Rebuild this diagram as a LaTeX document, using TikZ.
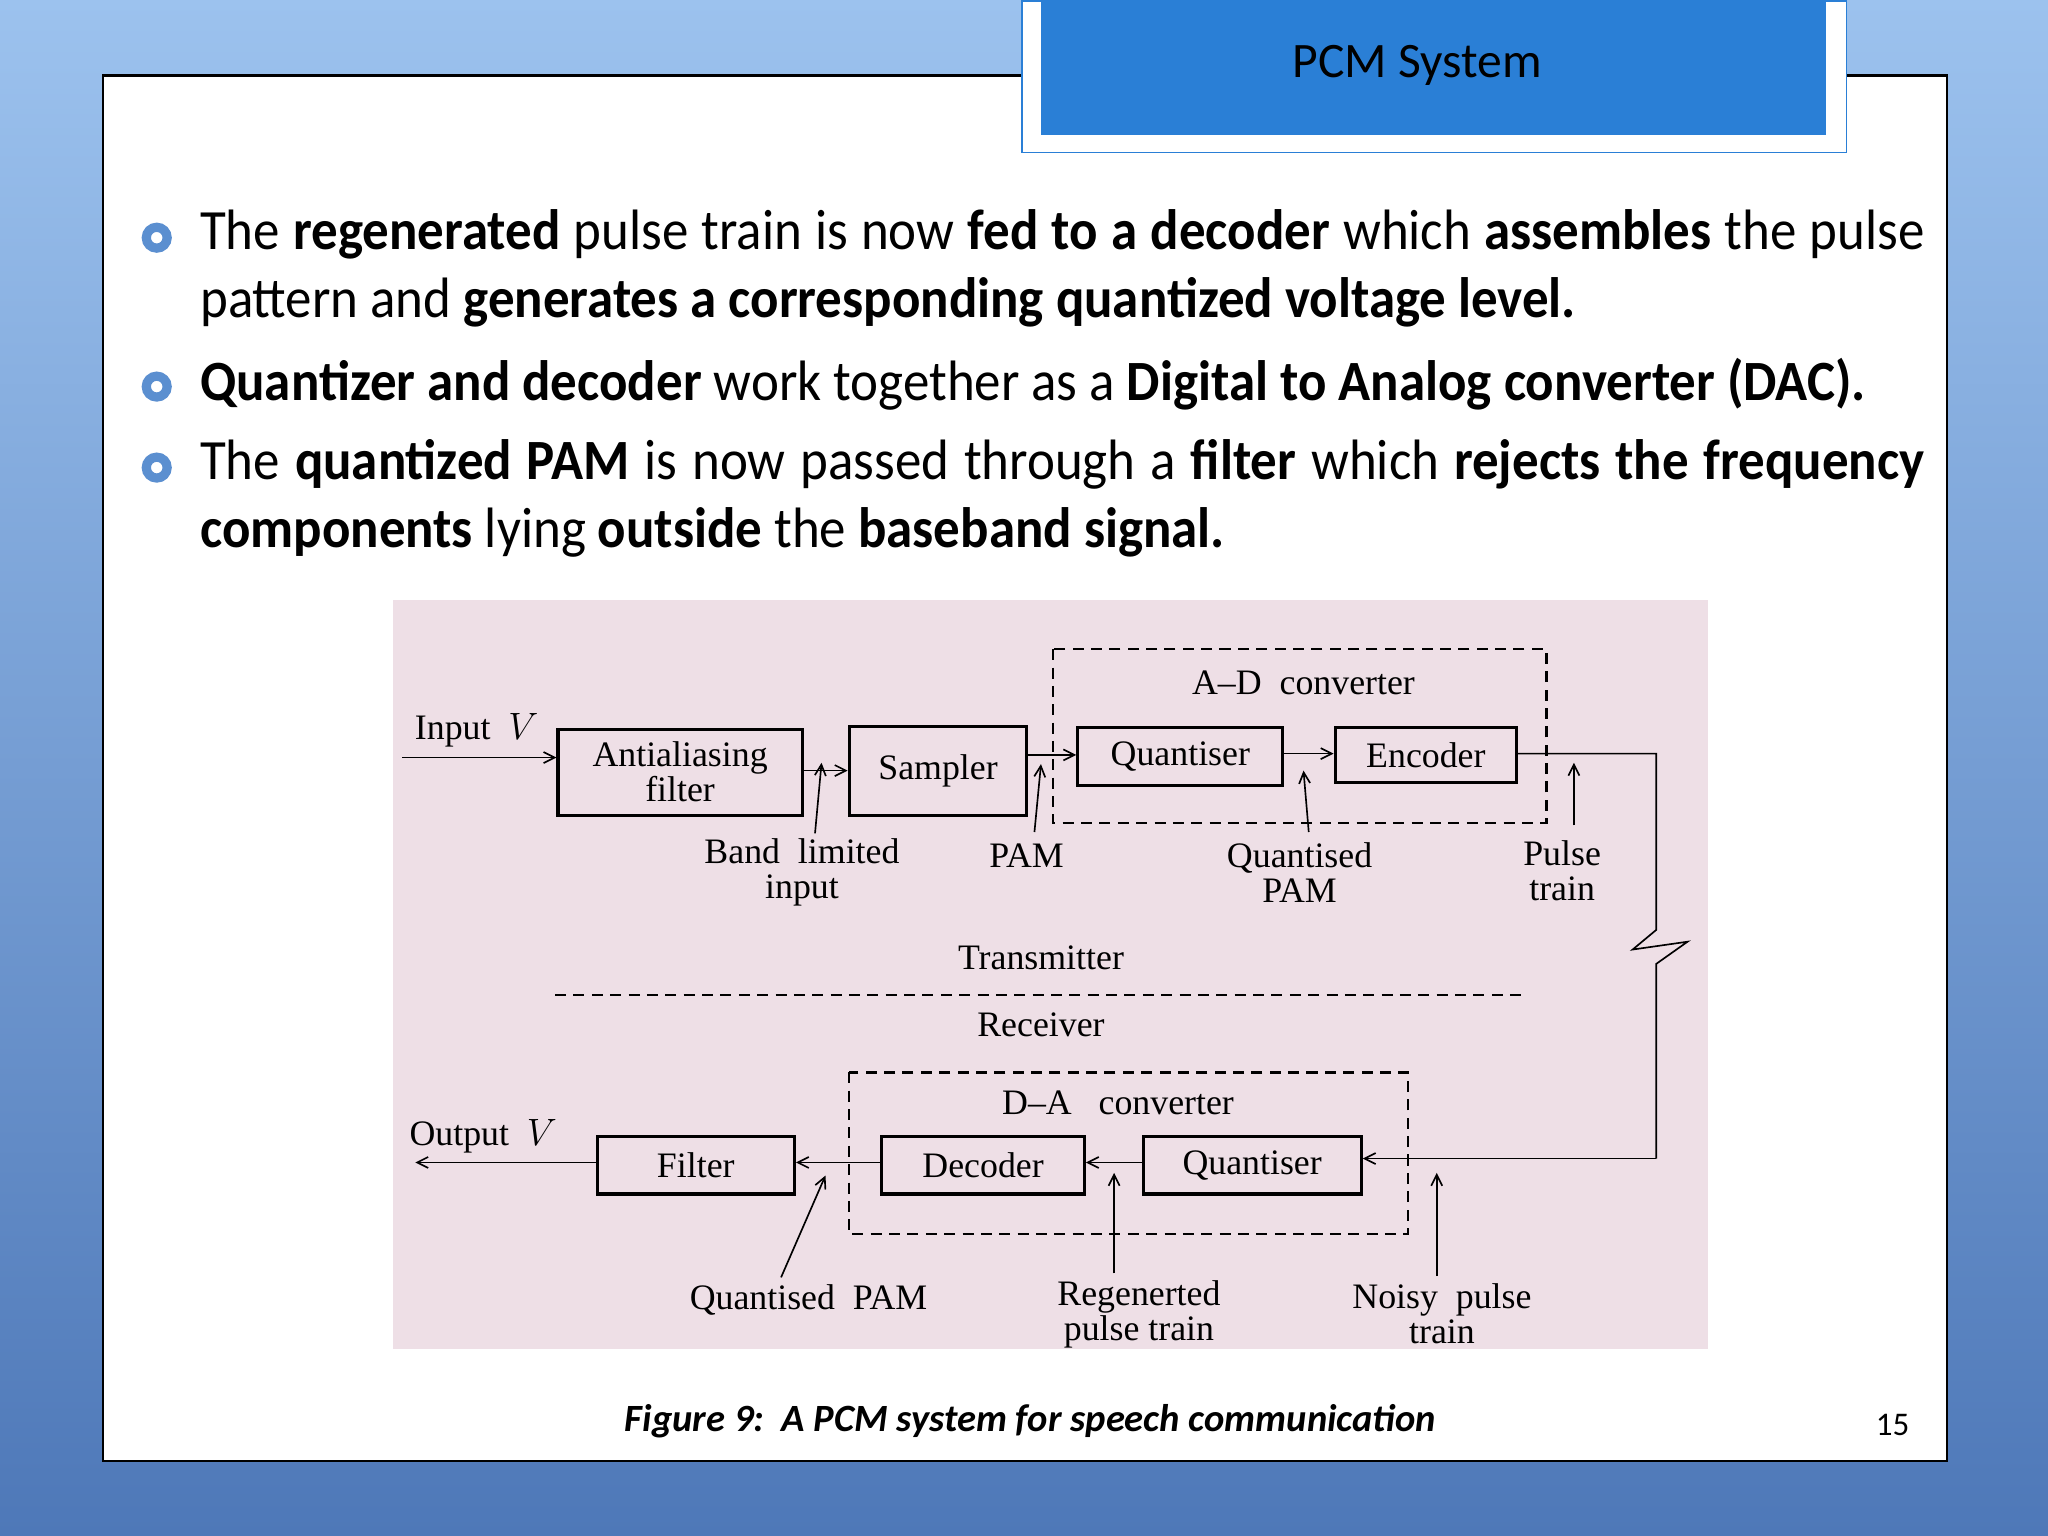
\documentclass[tikz,border=0pt]{standalone}
\usepackage{fontspec}
\usetikzlibrary{arrows.meta}
\newfontfamily\bodyf{Carlito}[FakeStretch=0.93]
\newfontfamily\diagf{Liberation Serif}
\definecolor{titleblue}{HTML}{2A7FD6}
\definecolor{bul}{HTML}{5B8FD0}
\definecolor{pinkbg}{HTML}{EEDFE6}
\definecolor{bgtop}{HTML}{9CC2EE}
\definecolor{bgbot}{HTML}{4E78B8}
\begin{document}
\begin{tikzpicture}[x=0.025cm,y=-0.025cm,
  blk/.style={draw,line width=1.7pt,inner sep=0pt},
  dlab/.style={font=\diagf\fontsize{19.5}{22}\selectfont,align=center,inner sep=1pt},
  arr/.style={-{Straight Barb[length=6pt,width=6pt]},line width=0.9pt},
  ln/.style={line width=0.9pt},
  dsh/.style={line width=1.3pt,dash pattern=on 6pt off 4pt},
  btxt/.style={font=\bodyf\fontsize{31}{37}\selectfont,text width=33cm,align=justify,inner sep=0pt,anchor=north west}]
\useasboundingbox (0,0) rectangle (1568,1176);
\shade[top color=bgtop,bottom color=bgbot] (0,0) rectangle (1568,1176);
\node[draw=black,line width=1.2pt,fill=white,minimum width=1412*0.025cm,minimum height=1061*0.025cm,anchor=north west,inner sep=0] (page) at (78,57) {};
\node[draw=titleblue,line width=1pt,fill=white,minimum width=631*0.025cm,minimum height=116*0.025cm,anchor=north west,inner sep=0] (tout) at (782,0) {};
\node[fill=titleblue,minimum width=601*0.025cm,minimum height=103*0.025cm,anchor=north west,inner sep=0] (tin) at (797,0) {};
\node[font=\fontspec{Carlito}\fontsize{27}{30}\selectfont] (title) at (1085,50) {PCM System};
% bullets
\foreach \y/\n in {182/b1,296/b2,358/b3}{\draw[bul,line width=5pt] (120,\y) circle (8);}
\node[btxt] (t1) at (153,160) {The \textbf{regenerated} pulse train is now \textbf{fed to a decoder} which \textbf{assembles} the pulse\linebreak pattern and \textbf{generates a corresponding quantized voltage level.}};
\node[btxt] (t2) at (153,274) {\textbf{Quantizer and decoder} work together as a \textbf{Digital to Analog converter (DAC).}};
\node[btxt] (t3) at (153,336) {The \textbf{quantized PAM} is now passed through a \textbf{filter} which \textbf{rejects the frequency}\linebreak \textbf{components} lying \textbf{outside} the \textbf{baseband signal.}};
% diagram
\fill[pinkbg] (301,459) rectangle (1308,1033);
\node[blk,minimum width=187*0.025cm,minimum height=66*0.025cm,anchor=north west] (aa) at (426,557) {};
\node[dlab] at (aa.center) {Antialiasing\\[-3pt]filter};
\node[blk,minimum width=136*0.025cm,minimum height=68*0.025cm,anchor=north west] (sa) at (649,555) {};
\node[dlab] at (sa.center) {Sampler};
\node[blk,minimum width=157*0.025cm,minimum height=44*0.025cm,anchor=north west] (qt) at (824,556) {};
\node[dlab] at (qt.center) {Quantiser};
\node[blk,minimum width=139*0.025cm,minimum height=42*0.025cm,anchor=north west] (en) at (1021,556) {};
\node[dlab] at (en.center) {Encoder};
\draw[dsh] (806,497) rectangle (1184,630);
\node[dlab] (adl) at (998,523) {A–D\ \ converter};
\node[dlab] (inl) at (365,559) {Input \ $V$};
\coordinate (inp) at (308,580);
\draw[arr] (inp) -- (aa.west|-inp);
\draw[arr] (aa.east|-0,590) -- (sa.west|-0,590);
\draw[arr] (sa.east|-0,578) -- (qt.west|-0,578);
\draw[arr] (qt.east|-0,577) -- (en.west|-0,577);
\coordinate (c1) at (1268,577); \coordinate (c2) at (1268,712);
\coordinate (c3) at (1268,740); \coordinate (c4) at (1268,887);
\draw[ln] (en.east|-c1) -- (c1) -- (c2) -- (1250,727) -- (1292,721) -- (1268,738) -- (c3) -- (c4);
\node[blk,minimum width=151*0.025cm,minimum height=44*0.025cm,anchor=north west] (fi) at (456,869) {};
\node[dlab] at (fi.center) {Filter};
\node[blk,minimum width=155*0.025cm,minimum height=44*0.025cm,anchor=north west] (de) at (674,869) {};
\node[dlab] at (de.center) {Decoder};
\node[blk,minimum width=167*0.025cm,minimum height=44*0.025cm,anchor=north west] (q2) at (874,869) {};
\node[dlab] at (q2.center) {Quantiser};
\draw[arr] (c4) -- (q2.east|-c4);
\draw[arr] (q2.west|-0,890) -- (de.east|-0,890);
\draw[arr] (de.west|-0,890) -- (fi.east|-0,890);
\coordinate (outp) at (318,890);
\draw[arr] (fi.west|-outp) -- (outp);
\node[dlab] (outl) at (370,870) {Output \ $V$};
\draw[dsh] (650,821) rectangle (1078,945);
\node[dlab] (dal) at (856,844) {D–A\ \ \ converter};
% labels with arrows
\node[dlab] (bl) at (614,668) {Band\ \ limited\\[-3pt]input};
\draw[arr] (624,638) -- (629,584);
\node[dlab] (pam) at (786,655) {PAM};
\draw[arr] (792,637) -- (797,585);
\node[dlab] (qp) at (995,668) {Quantised\\[-3pt]PAM};
\draw[arr] (1002,637) -- (998,590);
\node[dlab] (pt) at (1196,667) {Pulse\\[-3pt]train};
\draw[arr] (1205,632) -- (1205,584);
\node[dlab] (tx) at (797,733) {Transmitter};
\draw[dsh] (425,762) -- (1168,762);
\node[dlab] (rx) at (797,785) {Receiver};
\node[dlab] (qp2) at (619,995) {Quantised\ \ PAM};
\draw[arr] (598,978) -- (632,900);
\node[dlab] (rg) at (872,1006) {Regenerted\\[-3pt]pulse train};
\draw[arr] (853,975) -- (853,898);
\node[dlab] (np) at (1104,1006) {Noisy\ \ pulse\\[-3pt]train};
\draw[arr] (1100,977) -- (1100,898);
\node[font=\fontspec{Carlito}\fontsize{21}{24}\selectfont\bfseries\itshape] (cap) at (789,1088) {Figure 9:\ \ A PCM system for speech communication};
\node[font=\fontspec{Carlito}\fontsize{18}{22}\selectfont] (pn) at (1449,1091) {15};
\end{tikzpicture}
\end{document}
